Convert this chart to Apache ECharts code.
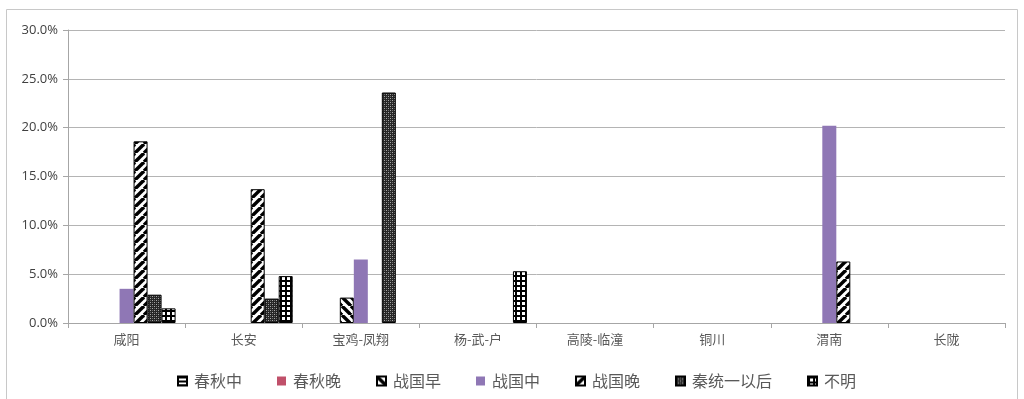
<!DOCTYPE html>
<html>
<head>
<meta charset="utf-8">
<script src="https://cdn.jsdelivr.net/npm/echarts@6/dist/echarts.min.js"></script>
<style>
  html, body { margin: 0; padding: 0; background: #fff; }
  #chart { width: 1024px; height: 399px; }
</style>
</head>
<body>
<div id="chart"></div>
<script>
// Regions along the x axis
const categories = ['咸阳', '长安', '宝鸡-凤翔', '杨-武-户', '高陵-临潼', '铜川', '渭南', '长陇'];

// Share of finds per period (percent); null = no bar
const chunqiuMid   = [null, null, null, null, null, null, null, null];
const chunqiuLate  = [null, null, null, null, null, null, null, null];
const zhanguoEarly = [null, null, 2.6, null, null, null, null, null];
const zhanguoMid   = [3.5, null, 6.5, null, null, null, 20.2, null];
const zhanguoLate  = [18.6, 13.7, null, null, null, null, 6.3, null];
const afterQin     = [2.9, 2.5, 23.6, null, null, null, null, null];
const unknown      = [1.5, 4.8, null, 5.3, null, null, null, null];

const seriesNames = ['春秋中', '春秋晚', '战国早', '战国中', '战国晚', '秦统一以后', '不明'];
const yTicks = [0, 5, 10, 15, 20, 25, 30];

// --- fill patterns drawn on small canvases ---
function tile(size, draw) {
  const c = document.createElement('canvas');
  c.width = size; c.height = size;
  const g = c.getContext('2d');
  draw(g, size);
  return { image: c, repeat: 'repeat' };
}
function diagonal(dir) {
  return tile(9, (g, s) => {
    g.fillStyle = '#fff'; g.fillRect(0, 0, s, s);
    g.strokeStyle = '#000'; g.lineWidth = 3.4;
    for (let k = -1; k <= 1; k++) {
      g.beginPath();
      if (dir > 0) { g.moveTo(k * s, s); g.lineTo(k * s + s, 0); }
      else { g.moveTo(k * s, 0); g.lineTo(k * s + s, s); }
      g.stroke();
    }
  });
}
const horizLines = tile(4, (g, s) => {
  g.fillStyle = '#fff'; g.fillRect(0, 0, s, s);
  g.fillStyle = '#000'; g.fillRect(0, 0, s, 2);
});
const diamond = tile(4, (g, s) => {
  g.fillStyle = '#262626'; g.fillRect(0, 0, s, s);
  g.fillStyle = '#a8a8a8';
  g.fillRect(0, 0, 1, 1);
  g.fillRect(2, 2, 1, 1);
  g.fillStyle = '#6a6a6a';
  g.fillRect(2, 0, 1, 1);
  g.fillRect(0, 2, 1, 1);
});
const grid = tile(5, (g, s) => {
  g.fillStyle = '#fff'; g.fillRect(0, 0, s, s);
  g.fillStyle = '#000';
  g.fillRect(0, 0, s, 2);
  g.fillRect(0, 0, 2, s);
});

const fills = [horizLines, '#c0506a', diagonal(-1), '#8f77b5', diagonal(1), diamond, grid];
const borders = [true, false, true, false, true, true, true];
const dataSets = [chunqiuMid, chunqiuLate, zhanguoEarly, zhanguoMid, zhanguoLate, afterQin, unknown];

const font = '"Noto Sans CJK SC", "Noto Sans", sans-serif';

const chart = echarts.init(document.getElementById('chart'), null, { renderer: 'canvas' });
chart.setOption({
  animation: false,
  backgroundColor: '#fff',
  graphic: [{
    type: 'rect',
    shape: { x: 6.5, y: 9.5, width: 1011, height: 392 },
    style: { fill: 'none', stroke: '#c8c8c8', lineWidth: 1 },
    silent: true
  }],
  grid: { left: 68, right: 19, top: 30, bottom: 76 },
  legend: {
    left: 172, top: 368,
    itemWidth: 9, itemHeight: 9, itemGap: 35,
    icon: 'rect',
    textStyle: { fontSize: 16, color: '#595959', fontFamily: font, padding: [0, 0, 0, 2] },
    data: seriesNames
  },
  xAxis: {
    type: 'category',
    data: categories,
    axisLine: { lineStyle: { color: '#a6a6a6' } },
    axisTick: { show: true, length: 5, lineStyle: { color: '#a6a6a6' } },
    axisLabel: { color: '#595959', fontSize: 13, fontFamily: font, margin: 10 }
  },
  yAxis: {
    type: 'value',
    min: yTicks[0], max: yTicks[yTicks.length - 1], interval: 5,
    axisLine: { show: true, lineStyle: { color: '#a6a6a6' } },
    axisTick: { show: true, length: 5, lineStyle: { color: '#a6a6a6' } },
    axisLabel: {
      color: '#404040', fontSize: 13, fontFamily: '"Open Sans", "Noto Sans", sans-serif', margin: 10,
      formatter: v => v.toFixed(1) + '%'
    },
    splitLine: { lineStyle: { color: '#b4b4b4' } }
  },
  series: seriesNames.map((name, i) => ({
    name,
    type: 'bar',
    data: dataSets[i],
    barWidth: 14,
    barGap: '0%',
    itemStyle: {
      color: fills[i],
      borderColor: borders[i] ? '#000' : 'transparent',
      borderWidth: borders[i] ? 1 : 0
    }
  }))
});
</script>
</body>
</html>
